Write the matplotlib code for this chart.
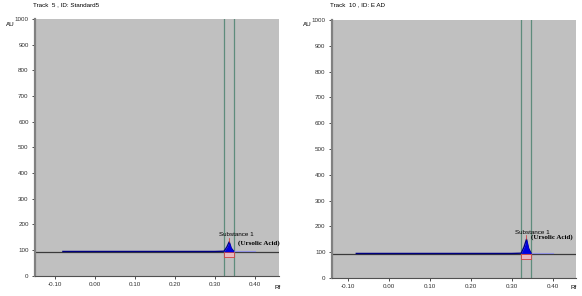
import matplotlib
matplotlib.use("Agg")
import matplotlib.pyplot as plt
import numpy as np

plt.rcParams['font.family'] = ['Liberation Sans', 'DejaVu Sans']

# ---- data ----
titles = ["Track  5 , ID: Standard5", "Track  10 , ID: E AD"]
xticks = [-0.10, 0.00, 0.10, 0.20, 0.30, 0.40]
xtick_labels = ["-0.10", "0.00", "0.10", "0.20", "0.30", "0.40"]
yticks = [0, 100, 200, 300, 400, 500, 600, 700, 800, 900, 1000]

trace_rf = [-0.08, 0.00, 0.10, 0.20, 0.30, 0.323, 0.330, 0.336, 0.341, 0.347]
trace_au_left = [95, 95, 95, 95, 95, 96, 112, 132, 108, 96]
trace_au_right = [95, 95, 95, 95, 95, 96, 120, 150, 115, 96]
tail_rf = [0.347, 0.40]
tail_au = [95, 95]
baseline_au = [92, 93]
window_rf = [0.322, 0.347]
box_au = (72, 92)
peak_rf = 0.336
xlims = [(-0.15, 0.46), (-0.14, 0.456)]

fig = plt.figure(figsize=(5.82, 2.96), dpi=100)
positions = [[0.060, 0.068, 0.419, 0.868], [0.570, 0.061, 0.419, 0.871]]
traces = [trace_au_left, trace_au_right]
label1_pos = [(0.354, 160), (0.351, 178)]
label2_pos = [(0.358, 128), (0.347, 159)]

for i in range(2):
    ax = fig.add_axes(positions[i])
    ax.set_facecolor('#c0c0c0')
    ax.set_xlim(*xlims[i])
    ax.set_ylim(0, 1000)
    ax.axhline(baseline_au[i], color='#3a3a3a', lw=0.9, zorder=2)
    for r in window_rf:
        ax.axvline(r, color='#5e8c7c', lw=0.9, zorder=2)
    ax.fill_between(window_rf, box_au[0], box_au[1], facecolor='#e8b8c0',
                    edgecolor='#d04040', lw=0.6, zorder=3)
    tr = traces[i]
    ax.plot(trace_rf, tr, color='#000080', lw=1.0, zorder=4)
    pk = np.array(trace_rf[5:])
    ax.fill_between(pk, baseline_au[i] + 2, np.array(tr[5:]), color='#0000e0', zorder=4, lw=0)
    ax.plot(tail_rf, tail_au, color='#9090e0', lw=0.8, zorder=3)
    ptop = max(tr)
    ax.plot([peak_rf, peak_rf], [ptop, ptop + 15], color='#d03030', lw=0.5, zorder=5)
    ax.text(*label1_pos[i], "Substance 1", fontsize=4.5, ha='center', va='center', zorder=6)
    ax.text(*label2_pos[i], "(Ursolic Acid)", fontsize=5, ha='left', va='center',
            family=['Liberation Serif'], fontweight='bold', zorder=6)

    ax.set_xticks(xticks)
    ax.set_xticklabels(xtick_labels, fontsize=4.5)
    ax.set_yticks(yticks)
    ax.set_yticklabels([str(v) for v in yticks], fontsize=4.5)
    ax.tick_params(axis='both', length=2.5, width=0.6, pad=2, colors='#303030')
    for s in ['top', 'right']:
        ax.spines[s].set_visible(False)
    ax.spines['left'].set_color('#808080')
    ax.spines['left'].set_linewidth(1.6)
    ax.spines['bottom'].set_color('#505050')
    ax.spines['bottom'].set_linewidth(0.8)

    p = positions[i]
    fig.text(p[0] - 0.003, 0.984, titles[i], fontsize=4.5, ha='left', va='center')
    fig.text(p[0] - 0.050, 0.918, "AU", fontsize=4.5, ha='left', va='center')
    fig.text(p[0] + p[2] - 0.008, 0.030, "Rf", fontsize=4.5, ha='left', va='center')

fig.savefig("out.png", dpi=100)
